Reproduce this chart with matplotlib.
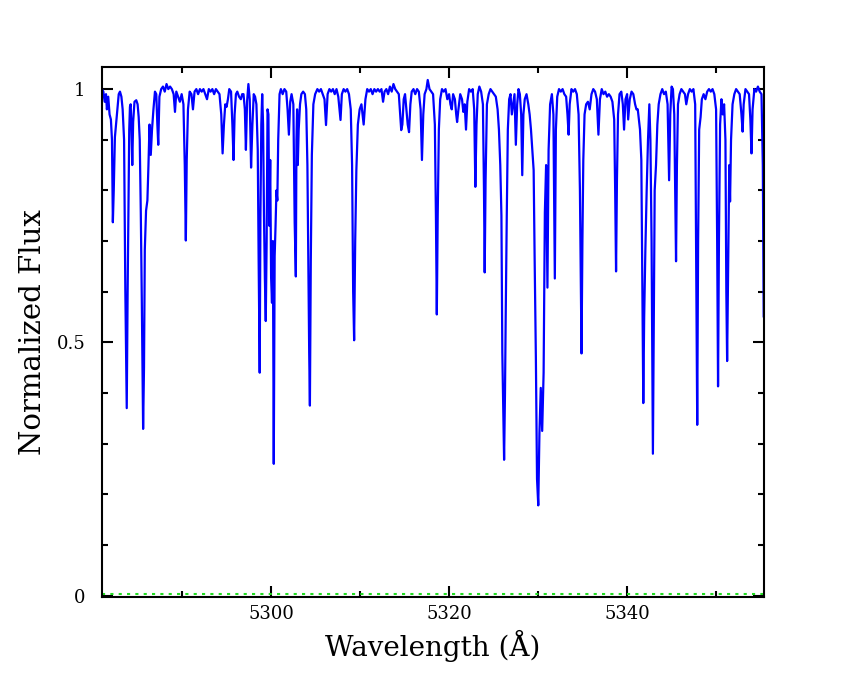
"""Normalized spectrum plot, 5281-5355 A"""
import matplotlib
matplotlib.use('Agg')
import matplotlib.pyplot as plt
from matplotlib.ticker import MultipleLocator, FuncFormatter

# wavelength (A) and normalized flux
wave = [
    5281.00, 5281.15, 5281.30, 5281.45, 5281.55, 5281.70, 5281.85, 5282.00, 5282.12, 5282.22,
    5282.32, 5282.45, 5282.58, 5282.72, 5282.88, 5283.02, 5283.18, 5283.32, 5283.48, 5283.62,
    5283.78, 5283.88, 5283.98, 5284.06, 5284.14, 5284.22, 5284.30, 5284.40, 5284.50, 5284.65,
    5284.85, 5285.00, 5285.12, 5285.24, 5285.36, 5285.47, 5285.62, 5285.72, 5285.81, 5285.95,
    5286.10, 5286.22, 5286.34, 5286.48, 5286.62, 5286.78, 5286.95, 5287.10, 5287.22, 5287.32,
    5287.45, 5287.65, 5287.85, 5288.05, 5288.25, 5288.45, 5288.65, 5288.85, 5289.05, 5289.20,
    5289.35, 5289.55, 5289.75, 5289.95, 5290.15, 5290.30, 5290.42, 5290.52, 5290.66, 5290.85,
    5291.05, 5291.22, 5291.40, 5291.60, 5291.80, 5292.00, 5292.20, 5292.40, 5292.60, 5292.80,
    5293.00, 5293.20, 5293.40, 5293.60, 5293.80, 5294.00, 5294.20, 5294.40, 5294.55, 5294.70,
    5294.85, 5295.00, 5295.15, 5295.30, 5295.50, 5295.65, 5295.78, 5295.90, 5296.05, 5296.20,
    5296.40, 5296.60, 5296.75, 5296.90, 5297.05, 5297.17, 5297.30, 5297.45, 5297.60, 5297.75,
    5297.90, 5298.05, 5298.20, 5298.35, 5298.50, 5298.60, 5298.72, 5298.80, 5298.90, 5299.00,
    5299.10, 5299.20, 5299.30, 5299.40, 5299.50, 5299.60, 5299.70, 5299.80, 5299.90, 5300.00,
    5300.10, 5300.20, 5300.30, 5300.40, 5300.50, 5300.60, 5300.70, 5300.80, 5300.95, 5301.10,
    5301.30, 5301.50, 5301.70, 5301.85, 5302.00, 5302.15, 5302.30, 5302.50, 5302.65, 5302.78,
    5302.85, 5302.92, 5303.00, 5303.10, 5303.25, 5303.40, 5303.60, 5303.80, 5303.95, 5304.08,
    5304.18, 5304.28, 5304.36, 5304.46, 5304.58, 5304.75, 5304.95, 5305.20, 5305.40, 5305.60,
    5305.80, 5306.00, 5306.17, 5306.35, 5306.55, 5306.75, 5306.95, 5307.15, 5307.35, 5307.55,
    5307.80, 5307.95, 5308.15, 5308.35, 5308.55, 5308.75, 5308.95, 5309.10, 5309.22, 5309.33,
    5309.45, 5309.58, 5309.75, 5309.95, 5310.15, 5310.40, 5310.60, 5310.80, 5311.00, 5311.20,
    5311.40, 5311.60, 5311.80, 5312.00, 5312.20, 5312.40, 5312.58, 5312.75, 5312.95, 5313.15,
    5313.35, 5313.55, 5313.75, 5313.95, 5314.15, 5314.35, 5314.50, 5314.62, 5314.75, 5314.90,
    5315.05, 5315.20, 5315.35, 5315.50, 5315.65, 5315.80, 5316.00, 5316.20, 5316.40, 5316.60,
    5316.80, 5316.95, 5317.10, 5317.25, 5317.45, 5317.60, 5317.80, 5318.00, 5318.20, 5318.40,
    5318.52, 5318.62, 5318.72, 5318.85, 5319.00, 5319.20, 5319.40, 5319.60, 5319.80, 5320.00,
    5320.15, 5320.30, 5320.45, 5320.65, 5320.80, 5320.90, 5321.05, 5321.25, 5321.45, 5321.60,
    5321.75, 5321.90, 5322.05, 5322.25, 5322.45, 5322.65, 5322.82, 5322.95, 5323.08, 5323.22,
    5323.40, 5323.60, 5323.80, 5323.92, 5324.00, 5324.10, 5324.25, 5324.45, 5324.65, 5324.85,
    5325.05, 5325.25, 5325.45, 5325.60, 5325.75, 5325.88, 5325.98, 5326.18, 5326.28, 5326.36,
    5326.48, 5326.60, 5326.75, 5326.90, 5327.05, 5327.20, 5327.35, 5327.50, 5327.65, 5327.80,
    5327.95, 5328.10, 5328.22, 5328.35, 5328.50, 5328.70, 5328.90, 5329.05, 5329.20, 5329.35,
    5329.50, 5329.61, 5329.75, 5329.88, 5330.02, 5330.15, 5330.30, 5330.46, 5330.62, 5330.76,
    5330.90, 5331.05, 5331.18, 5331.35, 5331.55, 5331.72, 5331.88, 5332.00, 5332.15, 5332.35,
    5332.55, 5332.75, 5332.95, 5333.15, 5333.30, 5333.43, 5333.55, 5333.75, 5333.95, 5334.15,
    5334.35, 5334.55, 5334.70, 5334.88, 5334.98, 5335.08, 5335.22, 5335.40, 5335.60, 5335.80,
    5336.00, 5336.20, 5336.40, 5336.60, 5336.78, 5336.95, 5337.15, 5337.35, 5337.55, 5337.75,
    5337.95, 5338.15, 5338.35, 5338.55, 5338.66, 5338.76, 5338.86, 5338.98, 5339.15, 5339.35,
    5339.52, 5339.66, 5339.82, 5340.00, 5340.12, 5340.30, 5340.50, 5340.70, 5340.90, 5341.05,
    5341.20, 5341.45, 5341.60, 5341.72, 5341.82, 5341.92, 5342.05, 5342.20, 5342.35, 5342.50,
    5342.62, 5342.75, 5342.90, 5343.00, 5343.10, 5343.25, 5343.40, 5343.55, 5343.75, 5343.95,
    5344.15, 5344.35, 5344.55, 5344.72, 5344.85, 5345.00, 5345.15, 5345.30, 5345.50, 5345.60,
    5345.72, 5345.90, 5346.10, 5346.30, 5346.50, 5346.65, 5346.85, 5347.05, 5347.25, 5347.45,
    5347.65, 5347.78, 5347.88, 5347.98, 5348.10, 5348.26, 5348.40, 5348.60, 5348.80, 5349.00,
    5349.20, 5349.40, 5349.60, 5349.80, 5350.00, 5350.12, 5350.22, 5350.32, 5350.45, 5350.60,
    5350.75, 5350.90, 5351.05, 5351.15, 5351.24, 5351.35, 5351.48, 5351.57, 5351.68, 5351.85,
    5352.05, 5352.25, 5352.45, 5352.65, 5352.85, 5352.98, 5353.10, 5353.30, 5353.50, 5353.70,
    5353.85, 5353.98, 5354.10, 5354.30, 5354.50, 5354.70, 5354.90, 5355.10, 5355.25, 5355.35,
    5355.45,
]
flux = [
    1.000, 0.995, 0.975, 0.990, 0.960, 0.985, 0.950, 0.940, 0.900, 0.737,
    0.800, 0.905, 0.930, 0.955, 0.990, 0.995, 0.985, 0.960, 0.900, 0.604,
    0.370, 0.600, 0.780, 0.920, 0.965, 0.970, 0.930, 0.850, 0.935, 0.975,
    0.978, 0.970, 0.945, 0.900, 0.754, 0.587, 0.329, 0.450, 0.683, 0.760,
    0.780, 0.850, 0.930, 0.870, 0.920, 0.960, 0.995, 0.990, 0.930, 0.890,
    0.985, 1.000, 1.005, 0.995, 1.010, 1.000, 1.005, 1.000, 0.990, 0.955,
    0.995, 0.985, 0.975, 0.990, 0.970, 0.850, 0.701, 0.860, 0.960, 0.995,
    0.990, 0.960, 0.995, 1.000, 0.990, 1.000, 0.995, 1.000, 0.990, 0.980,
    1.000, 0.995, 1.000, 0.990, 1.000, 0.995, 0.990, 0.950, 0.873, 0.930,
    0.970, 0.965, 0.980, 1.000, 0.995, 0.930, 0.860, 0.950, 0.990, 0.995,
    0.985, 0.980, 0.990, 0.990, 0.960, 0.880, 0.975, 1.010, 0.980, 0.845,
    0.930, 0.990, 0.985, 0.970, 0.880, 0.663, 0.440, 0.749, 0.930, 0.990,
    0.930, 0.750, 0.628, 0.542, 0.700, 0.960, 0.950, 0.730, 0.860, 0.628,
    0.578, 0.700, 0.260, 0.670, 0.730, 0.800, 0.780, 0.900, 0.990, 1.000,
    0.990, 1.000, 0.995, 0.960, 0.910, 0.975, 0.990, 0.970, 0.736, 0.630,
    0.900, 0.960, 0.850, 0.920, 0.970, 0.990, 0.995, 0.990, 0.960, 0.850,
    0.660, 0.480, 0.375, 0.660, 0.870, 0.970, 0.990, 1.000, 0.995, 1.000,
    0.990, 0.980, 0.929, 0.990, 1.000, 0.995, 1.000, 0.990, 1.000, 0.985,
    0.939, 0.990, 1.000, 0.995, 1.000, 0.990, 0.960, 0.850, 0.600, 0.504,
    0.700, 0.840, 0.930, 0.960, 0.970, 0.930, 0.980, 1.000, 0.995, 1.000,
    0.990, 1.000, 0.995, 1.000, 0.995, 1.000, 0.975, 0.995, 1.000, 0.990,
    1.005, 0.995, 1.010, 1.000, 0.995, 0.990, 0.950, 0.919, 0.930, 0.980,
    0.990, 0.960, 0.930, 0.915, 0.970, 0.995, 1.000, 0.990, 1.000, 0.995,
    0.960, 0.860, 0.950, 0.990, 1.000, 1.018, 1.000, 0.995, 0.990, 0.930,
    0.750, 0.555, 0.750, 0.920, 0.980, 1.000, 0.995, 1.000, 0.980, 0.990,
    0.970, 0.960, 0.990, 0.980, 0.950, 0.935, 0.960, 0.990, 0.980, 0.955,
    0.970, 0.920, 0.975, 1.000, 0.995, 1.000, 0.960, 0.807, 0.930, 0.990,
    1.005, 0.995, 0.970, 0.800, 0.638, 0.820, 0.970, 0.990, 1.000, 0.995,
    0.990, 0.985, 0.960, 0.920, 0.850, 0.750, 0.480, 0.268, 0.400, 0.550,
    0.750, 0.920, 0.980, 0.990, 0.950, 0.970, 0.990, 0.890, 0.970, 1.000,
    0.990, 0.950, 0.830, 0.950, 0.980, 0.990, 0.970, 0.950, 0.920, 0.880,
    0.840, 0.668, 0.470, 0.230, 0.178, 0.320, 0.410, 0.325, 0.440, 0.756,
    0.850, 0.608, 0.880, 0.970, 0.990, 0.950, 0.626, 0.920, 0.985, 1.000,
    0.995, 1.000, 0.990, 0.985, 0.950, 0.910, 0.970, 1.000, 0.995, 1.000,
    0.990, 0.950, 0.800, 0.478, 0.700, 0.860, 0.950, 0.970, 0.975, 0.960,
    0.990, 1.000, 0.995, 0.980, 0.910, 0.980, 1.000, 0.990, 0.995, 0.985,
    0.990, 0.985, 0.975, 0.940, 0.800, 0.640, 0.820, 0.950, 0.990, 0.995,
    0.970, 0.920, 0.980, 0.990, 0.940, 0.980, 0.995, 0.990, 0.970, 0.960,
    0.960, 0.920, 0.860, 0.600, 0.380, 0.550, 0.680, 0.800, 0.900, 0.970,
    0.900, 0.700, 0.280, 0.550, 0.800, 0.850, 0.930, 0.970, 0.990, 1.000,
    0.990, 0.995, 0.970, 0.820, 0.950, 1.005, 1.000, 0.950, 0.660, 0.850,
    0.970, 0.990, 1.000, 0.995, 0.990, 0.970, 0.990, 1.000, 0.995, 1.000,
    0.970, 0.600, 0.337, 0.700, 0.920, 0.945, 0.980, 0.990, 0.980, 0.995,
    1.000, 0.995, 1.000, 0.990, 0.960, 0.700, 0.413, 0.700, 0.930, 0.980,
    0.950, 0.970, 0.900, 0.600, 0.463, 0.650, 0.850, 0.778, 0.900, 0.970,
    0.990, 1.000, 0.995, 0.990, 0.950, 0.916, 0.970, 1.000, 0.995, 0.990,
    0.940, 0.873, 0.960, 1.000, 0.995, 1.005, 0.995, 0.990, 0.850, 0.550,
    0.550,
]

# error spectrum, flat near zero
err_wave = [5281.00, 5355.45]
err_flux = [0.003, 0.003]


def main():
    fig = plt.figure(figsize=(8.5, 6.8), dpi=100)
    ax = fig.add_axes([0.12, 0.122, 0.779, 0.779])

    ax.plot(wave, flux, color='#0000ff', lw=1.6)
    ax.plot(err_wave, err_flux, color='#22dd22', lw=1.5, ls=(0, (1.5, 2.5)))

    ax.set_xlim(5281.0, 5355.4)
    ax.set_ylim(-0.003, 1.043)

    ax.xaxis.set_major_locator(MultipleLocator(20))
    ax.xaxis.set_minor_locator(MultipleLocator(10))
    ax.yaxis.set_major_locator(MultipleLocator(0.5))
    ax.yaxis.set_minor_locator(MultipleLocator(0.1))
    ax.yaxis.set_major_formatter(FuncFormatter(lambda v, p: '%g' % v))

    ax.tick_params(which='both', direction='in', top=True, right=True, width=1.5,
                   labelsize=13, labelfontfamily='DejaVu Serif')
    ax.tick_params(axis='x', which='major', length=8, pad=6)
    ax.tick_params(axis='y', which='major', length=8, pad=12)
    ax.tick_params(which='minor', length=4)
    for sp in ax.spines.values():
        sp.set_linewidth(1.5)

    ax.set_xlabel('Wavelength (Å)', fontsize=20, family='DejaVu Serif', labelpad=5)
    ax.set_ylabel('Normalized Flux', fontsize=21, family='DejaVu Serif')
    ax.yaxis.set_label_coords(-0.083, 0.5)

    fig.savefig('out.png', dpi=100)


if __name__ == '__main__':
    main()
